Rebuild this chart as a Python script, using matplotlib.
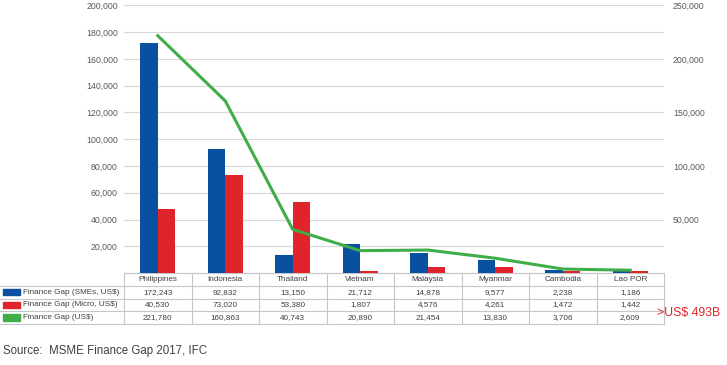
import numpy as np
import matplotlib.pyplot as plt
from matplotlib import ticker, transforms
from matplotlib.patches import Rectangle

plt.rcParams['font.family'] = ['Liberation Sans', 'DejaVu Sans']

# data
countries = ['Philippines', 'Indonesia', 'Thailand', 'Vietnam', 'Malaysia', 'Myanmar', 'Cambodia', 'Lao POR']
gap_smes = [172243, 92832, 13150, 21712, 14878, 9577, 2238, 1186]
gap_micro = [40530, 73020, 53380, 1807, 4576, 4261, 1472, 1442]
gap_total = [221780, 160863, 40743, 20890, 21454, 13830, 3706, 2609]
# bar heights for micro as drawn in the picture (Philippines bar sits near 48k)
micro_bars = [48000, 73020, 53380, 1807, 4576, 4261, 1472, 1442]
series_names = ['Finance Gap (SMEs, US$)', 'Finance Gap (Micro, US$)', 'Finance Gap (US$)']

BLUE = '#0a50a1'
RED = '#e0242b'
GREEN = '#3fae49'
W, H = 727, 365

fig = plt.figure(figsize=(W / 100, H / 100), dpi=100)
ax = fig.add_axes([124 / W, (H - 273) / H, (664 - 124) / W, (273 - 5.5) / H])
ax2 = ax.twinx()

x = np.arange(len(countries))
ax.bar(x - 0.13, gap_smes, width=0.26, color=BLUE, zorder=3)
ax.bar(x + 0.13, micro_bars, width=0.26, color=RED, zorder=3)
ax2.plot(x, gap_total, color=GREEN, lw=2.2, zorder=4)

ax.set_xlim(-0.5, len(countries) - 0.5)
ax.set_ylim(0, 200000)
ax2.set_ylim(0, 250000)
ax.yaxis.set_major_locator(ticker.MultipleLocator(20000))
ax2.yaxis.set_major_locator(ticker.MultipleLocator(50000))
fmt = ticker.FuncFormatter(lambda v, p: '' if v == 0 else f'{int(v):,}')
ax.yaxis.set_major_formatter(fmt)
ax2.yaxis.set_major_formatter(fmt)
ax.set_xticks([])
ax.grid(axis='y', color='#d9d9d9', lw=0.9, zorder=0)
for a in (ax, ax2):
    for s in a.spines.values():
        s.set_visible(False)
ax.tick_params(axis='y', length=0, pad=4.5, labelsize=6.3, labelcolor='#595959')
ax2.tick_params(axis='y', length=0, pad=6.5, labelsize=6.3, labelcolor='#595959')

# data table under the chart
tr = transforms.blended_transform_factory(ax.transData, fig.transFigure)
px = transforms.blended_transform_factory(fig.transFigure, fig.transFigure)
fy = lambda y: (H - y) / H
lc = '#c6c6c6'
rows = [273, 286, 298.5, 311, 324]
n = len(countries)

ax.plot([-0.5, n - 0.5], [fy(rows[0])] * 2, color=lc, lw=0.8, transform=tr, clip_on=False)
for r in rows[1:]:
    ax.plot([0, 664 / W], [fy(r)] * 2, color=lc, lw=0.8, transform=px, clip_on=False)
for b in np.arange(n + 1) - 0.5:
    ax.plot([b, b], [fy(rows[0]), fy(rows[-1])], color=lc, lw=0.8, transform=tr, clip_on=False)

tc = '#404040'
fs = 5.9
for i, c in enumerate(countries):
    ax.text(i, fy((rows[0] + rows[1]) / 2), c, transform=tr, ha='center', va='center',
            fontsize=fs, color=tc)
table_vals = [gap_smes, gap_micro, gap_total]
colors = [BLUE, RED, GREEN]
for k, vals in enumerate(table_vals):
    yc = fy((rows[k + 1] + rows[k + 2]) / 2)
    fig.patches.append(Rectangle((3 / W, yc - 3.2 / H), 17 / W, 6.4 / H, color=colors[k],
                                 transform=fig.transFigure))
    fig.text(23 / W, yc, series_names[k], ha='left', va='center', fontsize=fs, color=tc)
    for i, v in enumerate(vals):
        ax.text(i, yc, f'{v:,}', transform=tr, ha='center', va='center', fontsize=fs, color=tc)

fig.text(657 / W, fy(313), '>US$ 493B', ha='left', va='center', fontsize=8.8, color='#e0242b')
fig.text(3 / W, fy(351), 'Source:  MSME Finance Gap 2017, IFC', ha='left', va='center',
         fontsize=8.3, color='#404040')

fig.savefig('out.png', dpi=100)
